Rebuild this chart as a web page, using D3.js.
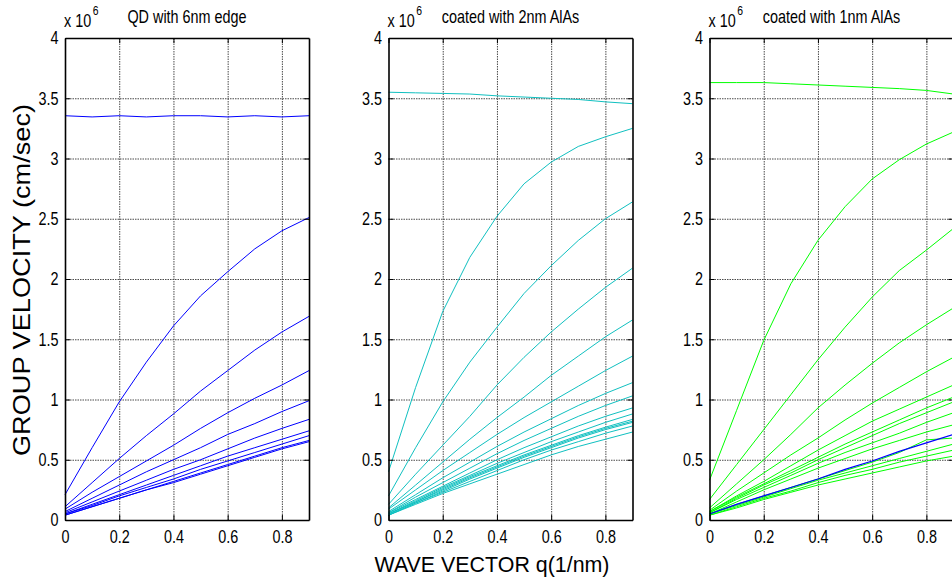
<!DOCTYPE html>
<html>
<head>
<meta charset="utf-8">
<script src="https://cdn.jsdelivr.net/npm/d3@7"></script>
<style>
  body { margin: 0; background: #fff; }
  .small, .small text { font-family: 'Liberation Sans', Arial, sans-serif; fill: #000; }
  .big { font-family: 'Liberation Sans', Arial, sans-serif; fill: #000; }
</style>
</head>
<body>
<script>
/***** Data *****/
var qValues = [0, 0.1, 0.2, 0.3, 0.4, 0.5, 0.6, 0.7, 0.8, 0.9];
var xTicks = [0, 0.2, 0.4, 0.6, 0.8];
var yTicks = [0, 0.5, 1, 1.5, 2, 2.5, 3, 3.5, 4];
var panelTitles = ["QD with 6nm edge", "coated with 2nm AlAs", "coated with 1nm AlAs"];

// QD with 6nm edge (blue)
var qd6Curves = [
  [3.355, 3.345, 3.355, 3.345, 3.355, 3.355, 3.345, 3.355, 3.345, 3.355],
  [0.21, 0.60, 0.98, 1.31, 1.61, 1.86, 2.06, 2.25, 2.40, 2.51],
  [0.11, 0.31, 0.51, 0.70, 0.88, 1.07, 1.24, 1.41, 1.56, 1.69],
  [0.09, 0.23, 0.36, 0.49, 0.62, 0.76, 0.89, 1.01, 1.12, 1.24],
  [0.07, 0.18, 0.29, 0.40, 0.50, 0.60, 0.71, 0.80, 0.90, 0.99],
  [0.06, 0.15, 0.24, 0.33, 0.42, 0.50, 0.59, 0.68, 0.76, 0.835],
  [0.05, 0.13, 0.21, 0.29, 0.37, 0.45, 0.53, 0.60, 0.67, 0.74],
  [0.05, 0.12, 0.20, 0.27, 0.34, 0.42, 0.49, 0.56, 0.63, 0.70],
  [0.04, 0.11, 0.18, 0.25, 0.32, 0.39, 0.46, 0.53, 0.60, 0.66],
  [0.04, 0.11, 0.18, 0.25, 0.31, 0.38, 0.45, 0.52, 0.59, 0.65]
];

// coated with 2nm AlAs (cyan)
var alas2Curves = [
  [3.55, 3.545, 3.54, 3.535, 3.52, 3.51, 3.50, 3.49, 3.47, 3.455],
  [0.40, 1.10, 1.73, 2.18, 2.52, 2.79, 2.97, 3.10, 3.18, 3.25],
  [0.20, 0.60, 0.98, 1.31, 1.60, 1.88, 2.11, 2.32, 2.50, 2.64],
  [0.13, 0.38, 0.62, 0.86, 1.12, 1.35, 1.56, 1.75, 1.93, 2.09],
  [0.10, 0.29, 0.48, 0.67, 0.85, 1.02, 1.20, 1.36, 1.52, 1.66],
  [0.09, 0.25, 0.41, 0.56, 0.71, 0.85, 0.98, 1.11, 1.24, 1.36],
  [0.07, 0.21, 0.35, 0.48, 0.61, 0.73, 0.84, 0.95, 1.05, 1.14],
  [0.06, 0.19, 0.31, 0.43, 0.55, 0.66, 0.76, 0.86, 0.95, 1.03],
  [0.06, 0.17, 0.28, 0.39, 0.50, 0.60, 0.69, 0.78, 0.86, 0.93],
  [0.05, 0.16, 0.27, 0.37, 0.47, 0.56, 0.65, 0.73, 0.81, 0.88],
  [0.05, 0.15, 0.26, 0.36, 0.45, 0.54, 0.62, 0.70, 0.77, 0.835],
  [0.05, 0.15, 0.25, 0.35, 0.44, 0.53, 0.61, 0.69, 0.76, 0.82],
  [0.04, 0.14, 0.24, 0.34, 0.43, 0.52, 0.60, 0.68, 0.75, 0.81],
  [0.04, 0.14, 0.23, 0.32, 0.41, 0.50, 0.58, 0.65, 0.72, 0.78],
  [0.04, 0.13, 0.22, 0.30, 0.38, 0.46, 0.54, 0.61, 0.67, 0.73]
];

// coated with 1nm AlAs (green)
var alas1Curves = [
  [3.63, 3.63, 3.63, 3.62, 3.61, 3.60, 3.59, 3.58, 3.565, 3.535],
  [0.33, 0.91, 1.49, 1.96, 2.32, 2.60, 2.83, 2.99, 3.12, 3.22],
  [0.17, 0.46, 0.75, 1.04, 1.33, 1.60, 1.85, 2.07, 2.24, 2.42],
  [0.10, 0.30, 0.50, 0.71, 0.93, 1.12, 1.30, 1.47, 1.62, 1.76],
  [0.08, 0.24, 0.39, 0.54, 0.68, 0.83, 0.97, 1.10, 1.23, 1.35],
  [0.07, 0.20, 0.32, 0.45, 0.58, 0.70, 0.82, 0.92, 1.02, 1.12],
  [0.07, 0.19, 0.30, 0.41, 0.52, 0.63, 0.73, 0.83, 0.93, 1.02],
  [0.06, 0.18, 0.29, 0.39, 0.50, 0.60, 0.70, 0.80, 0.89, 0.98],
  [0.06, 0.17, 0.27, 0.37, 0.47, 0.56, 0.64, 0.72, 0.81, 0.89],
  [0.05, 0.15, 0.25, 0.34, 0.43, 0.51, 0.59, 0.66, 0.73, 0.79],
  [0.05, 0.13, 0.20, 0.27, 0.34, 0.41, 0.48, 0.56, 0.665, 0.68],
  [0.05, 0.12, 0.19, 0.26, 0.33, 0.39, 0.45, 0.51, 0.57, 0.63],
  [0.04, 0.11, 0.18, 0.24, 0.31, 0.37, 0.42, 0.48, 0.53, 0.58],
  [0.04, 0.10, 0.17, 0.23, 0.29, 0.34, 0.39, 0.44, 0.49, 0.53]
];
// the one blue curve drawn over the green ones
var alas1Blue = [0.05, 0.13, 0.20, 0.27, 0.34, 0.42, 0.49, 0.57, 0.64, 0.71];

/***** Configuration *****/
var W = 952, H = 580;
var plotTop = 38, plotBottom = 520;
var panelW = 244;
var plotH = plotBottom - plotTop;
var narrow = "scale(0.8,1)";   // MATLAB's narrow Helvetica look
var panels = [
  { left: 65,    curves: qd6Curves,   color: "#0000ff", extra: null },
  { left: 388.5, curves: alas2Curves, color: "#10c0c0", extra: null },
  { left: 709.5, curves: alas1Curves, color: "#00ff00", extra: { values: alas1Blue, color: "#0000ff" } }
];

var svg = d3.select("body").append("svg")
  .attr("width", W)
  .attr("height", H);

var x = d3.scaleLinear().domain([0, 0.9]).range([0, panelW]);
var y = d3.scaleLinear().domain([0, 4]).range([plotH, 0]);
var fmt = d3.format("~g");

var line = d3.line()
  .x(function (d, i) { return x(qValues[i]); })
  .y(function (d) { return y(d); });

panels.forEach(function (p, k) {
  var g = svg.append("g").attr("transform", "translate(" + p.left + "," + plotTop + ")");

  /***** Grid *****/
  g.append("g").attr("class", "grid")
    .attr("transform", "translate(0," + plotH + ")")
    .call(d3.axisBottom(x).tickValues(xTicks.slice(1)).tickSize(-plotH).tickFormat(""));
  g.append("g").attr("class", "grid")
    .call(d3.axisLeft(y).tickValues(yTicks.slice(1, -1)).tickSize(-panelW).tickFormat(""));
  g.selectAll(".grid .domain").remove();
  g.selectAll(".grid line")
    .attr("stroke", "#4a4a4a")
    .attr("stroke-width", 1)
    .attr("stroke-dasharray", "1.5,1");

  /***** Curves *****/
  g.selectAll("path.curve")
    .data(p.curves)
    .enter().append("path")
    .attr("class", "curve")
    .attr("d", line)
    .attr("fill", "none")
    .attr("stroke", p.color)
    .attr("stroke-width", 1);
  if (p.extra) {
    g.append("path")
      .attr("d", line(p.extra.values))
      .attr("fill", "none")
      .attr("stroke", p.extra.color)
      .attr("stroke-width", 1.2);
  }

  /***** Axes (box with inward ticks) *****/
  var axB = g.append("g").attr("class", "small")
    .attr("transform", "translate(0," + plotH + ")")
    .call(d3.axisBottom(x).tickValues(xTicks).tickSizeInner(-5).tickSizeOuter(0).tickPadding(10).tickFormat(fmt));
  var axL = g.append("g").attr("class", "small")
    .call(d3.axisLeft(y).tickValues(yTicks).tickSizeInner(-5).tickSizeOuter(0).tickPadding(8).tickFormat(fmt));
  var axT = g.append("g")
    .call(d3.axisTop(x).tickValues(xTicks).tickSizeInner(-5).tickSizeOuter(0).tickFormat(""));
  var axR = g.append("g")
    .attr("transform", "translate(" + panelW + ",0)")
    .call(d3.axisRight(y).tickValues(yTicks).tickSizeInner(-5).tickSizeOuter(0).tickFormat(""));

  [axB, axL, axT, axR].forEach(function (a) {
    a.attr("font-family", null).attr("font-size", null);
    a.select(".domain").attr("stroke", "#000").attr("stroke-width", 1.6);
    a.selectAll(".tick line").attr("stroke", "#000").attr("stroke-width", 1);
    a.selectAll(".tick text").attr("font-size", 18).attr("fill", "#000").attr("transform", narrow);
  });

  /***** Title and exponent *****/
  g.append("text").attr("class", "small")
    .attr("transform", "translate(" + (panelW / 2) + ",-15) " + narrow)
    .attr("text-anchor", "middle")
    .attr("font-size", 18)
    .text(panelTitles[k]);
  var ex = g.append("text").attr("class", "small")
    .attr("transform", "translate(-1,-11) " + narrow)
    .attr("font-size", 18);
  ex.append("tspan").text("x 10");
  ex.append("tspan").attr("font-size", 13).attr("dy", -12).attr("dx", 2).text("6");
});

/***** Axis labels *****/
svg.append("text").attr("class", "big")
  .attr("x", 492).attr("y", 572)
  .attr("text-anchor", "middle")
  .attr("font-size", 22)
  .attr("textLength", 235)
  .attr("lengthAdjust", "spacingAndGlyphs")
  .text("WAVE VECTOR q(1/nm)");

svg.append("text").attr("class", "big")
  .attr("transform", "translate(30,280) rotate(-90)")
  .attr("text-anchor", "middle")
  .attr("font-size", 24)
  .attr("textLength", 352)
  .attr("lengthAdjust", "spacingAndGlyphs")
  .text("GROUP VELOCITY (cm/sec)");
</script>
</body>
</html>
